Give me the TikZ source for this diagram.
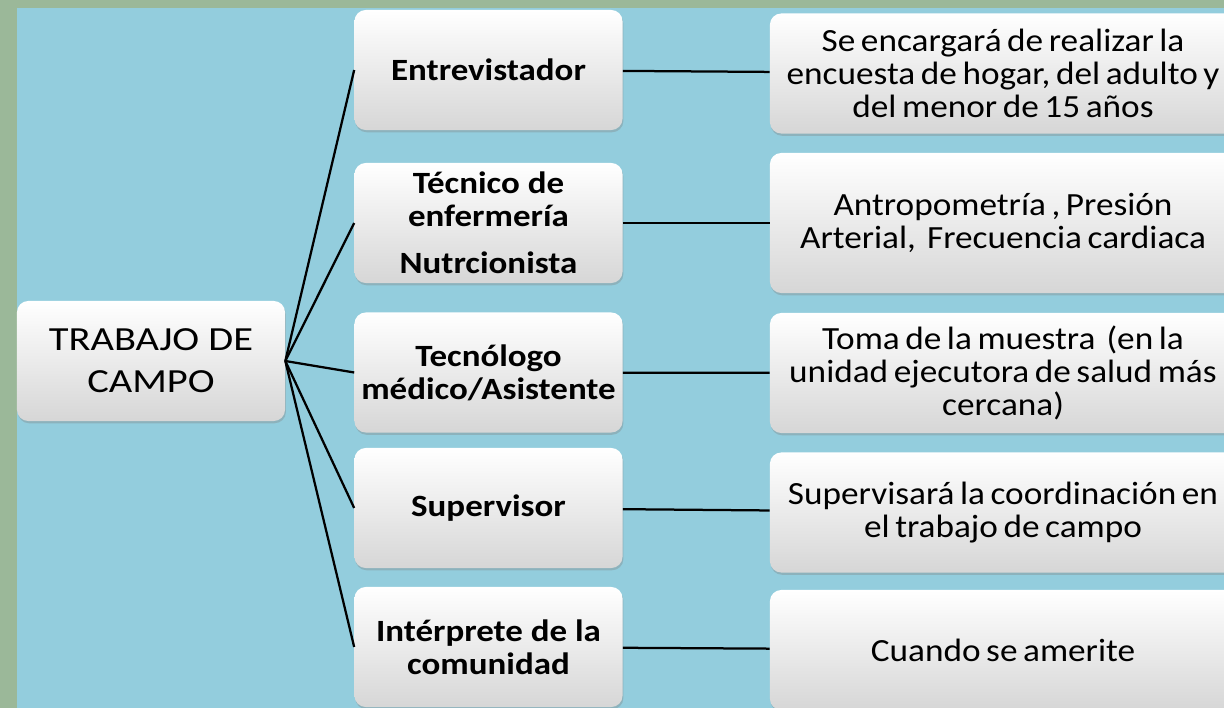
\documentclass[tikz,border=0pt]{standalone}
\usepackage{fontspec}
\setmainfont{Carlito}
\newfontfamily\fuenteraiz{Carlito}[FakeStretch=1.2]
\newfontfamily\fuenterol{Carlito}[FakeStretch=1.13]
\newfontfamily\fuentetarea{Carlito}[FakeStretch=1.09, WordSpace=0.7]
\usetikzlibrary{shadows}

\definecolor{fondo}{HTML}{93CDDD}
\definecolor{franja}{HTML}{9BB899}

\begin{document}
\begin{tikzpicture}[%
    x=0.025cm,
    y=-0.025cm,
    caja/.style={rounded corners=8pt, top color=white, bottom color=black!16,
      drop shadow={shadow xshift=0.6pt, shadow yshift=-1.6pt, opacity=0.35},
      align=center, inner sep=2pt},
    raiz/.style={caja, minimum width=6.7cm, minimum height=3cm,
      font=\fuenteraiz\fontsize{24}{30}\selectfont},
    rol/.style={caja, minimum width=6.7cm, minimum height=3cm,
      font=\fuenterol\fontsize{22}{23.5}\selectfont\bfseries},
    tarea/.style={caja, minimum width=11.65cm, minimum height=3cm,
      font=\fuentetarea\fontsize{23}{23.2}\selectfont},
    linea/.style={line width=1.6pt, black}]
    \clip (0,0) rectangle (1224,708);
    % fondo
    \fill[fondo] (0,0) rectangle (1224,708);
    \fill[franja] (0,0) rectangle (17,708);
    \shade[left color=franja, middle color=white, right color=franja] (0,0) rectangle (1224,8);

    \node[raiz] (campo) at (151,361) {TRABAJO DE\\CAMPO};

    \node[rol] (entrevistador) at (488.5,70) {Entrevistador};
    \node[rol] (tecnico) at (488.5,223) {Técnico de\\enfermería\\[10pt]Nutrcionista};
    \node[rol] (tecnologo) at (488.5,372.5) {Tecnólogo\\médico/Asistente};
    \node[rol] (supervisor) at (488.5,508) {Supervisor};
    \node[rol] (interprete) at (488.5,647) {Intérprete de la\\comunidad};

    \node[tarea] (tarea_1) at (1003,73.5) {Se encargará de realizar la\\encuesta de hogar, del adulto y\\del menor de 15 años};
    \node[tarea, minimum height=3.5cm] (tarea_2) at (1003,223) {Antropometría , Presión\\Arterial,\ \ Frecuencia cardiaca};
    \node[tarea] (tarea_3) at (1003,373) {Toma de la muestra\ \ (en la\\unidad ejecutora de salud más\\cercana)};
    \node[tarea] (tarea_4) at (1003,512.5) {Supervisará la coordinación en\\el trabajo de campo};
    \node[tarea] (tarea_5) at (1003,650) {Cuando se amerite};

    \path[linea]
              (campo.east) edge (entrevistador.west)
              (campo.east) edge (tecnico.west)
              (campo.east) edge (tecnologo.west)
              (campo.east) edge (supervisor.west)
              (campo.east) edge (interprete.west)

              (entrevistador) edge (tarea_1)
              (tecnico) edge (tarea_2)
              (tecnologo) edge (tarea_3)
              (supervisor) edge (tarea_4)
              (interprete) edge (tarea_5);
  \end{tikzpicture}
\end{document}
